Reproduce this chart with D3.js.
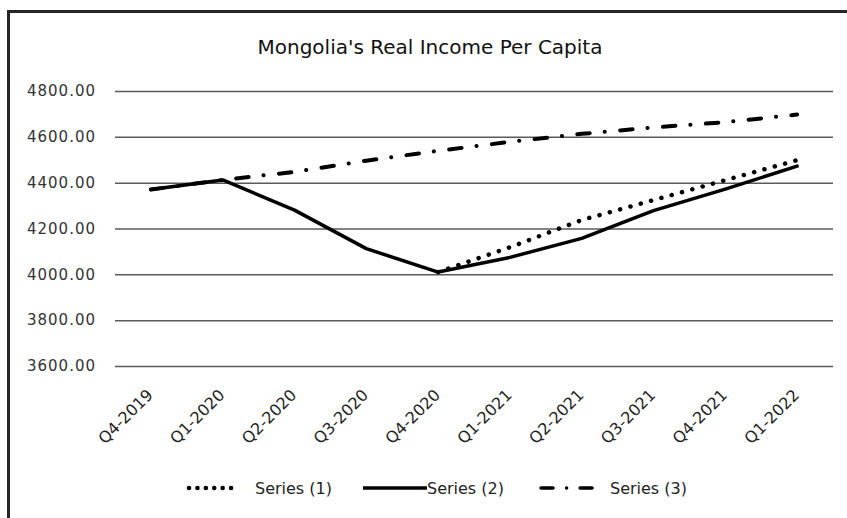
<!DOCTYPE html>
<html>
<head>
<meta charset="utf-8">
<script src="https://cdn.jsdelivr.net/npm/d3@7"></script>
<style>
  body { margin: 0; background: #fff; }
  svg { display: block; font-family: "DejaVu Sans", sans-serif; }
</style>
</head>
<body>
<div id="chart"></div>
<script>
const categories = ["Q4-2019", "Q1-2020", "Q2-2020", "Q3-2020", "Q4-2020",
  "Q1-2021", "Q2-2021", "Q3-2021", "Q4-2021", "Q1-2022"];
const series1 = [null, null, null, null, 4010, 4118, 4237, 4324, 4411, 4498];
const series2 = [4370, 4412, 4280, 4112, 4010, 4074, 4157, 4278, 4372, 4472];
const series3 = [4370, 4412, 4447, 4496, 4539, 4578, 4613, 4641, 4664, 4697];
const seriesNames = ["Series (1)", "Series (2)", "Series (3)"];
const yTicks = [3600, 3800, 4000, 4200, 4400, 4600, 4800];

const W = 847, H = 518;
const plot = { left: 115, right: 833, top: 91, bottom: 366 };

const styles = [
  { dash: "0.1,10.6", width: 4.5, legendDash: "0.1,8.3" },
  { dash: null, width: 3.5, legendDash: null },
  { dash: "12.5,15,0.1,15.4", width: 4, legendDash: "12,13.5,0.1,13.5" }
];

const svg = d3.select("#chart").append("svg")
  .attr("width", W)
  .attr("height", H);

// outer frame (cut off at right and bottom)
svg.append("rect")
  .attr("x", 8.5).attr("y", 11.5)
  .attr("width", 900).attr("height", 600)
  .attr("fill", "none")
  .attr("stroke", "#262626")
  .attr("stroke-width", 3);

svg.append("text")
  .attr("x", 430).attr("y", 54)
  .attr("text-anchor", "middle")
  .attr("font-size", 20)
  .attr("fill", "#111")
  .text("Mongolia's Real Income Per Capita");

const x = d3.scalePoint()
  .domain(categories)
  .range([plot.left, plot.right])
  .padding(0.5);

const y = d3.scaleLinear()
  .domain([3600, 4800])
  .range([plot.bottom, plot.top]);

// gridlines + y labels
const yAxis = svg.append("g")
  .attr("transform", `translate(${plot.left},0)`)
  .call(d3.axisLeft(y).tickValues(yTicks).tickSize(-(plot.right - plot.left))
    .tickPadding(19).tickFormat(d3.format(".2f")));
yAxis.select(".domain").remove();
yAxis.selectAll(".tick line")
  .attr("stroke", "#5a5a5a")
  .attr("stroke-width", 1.5);
yAxis.selectAll(".tick text")
  .attr("font-size", 15)
  .attr("font-family", "DejaVu Sans")
  .attr("letter-spacing", 1)
  .attr("fill", "#333");

// x labels, rotated
svg.append("g")
  .selectAll("text")
  .data(categories)
  .enter().append("text")
  .attr("transform", d => `translate(${x(d) + 3},396) rotate(-45)`)
  .attr("text-anchor", "end")
  .attr("font-size", 16)
  .attr("fill", "#222")
  .text(d => d);

const line = d3.line()
  .defined(d => d.v != null)
  .x(d => x(d.c))
  .y(d => y(d.v));

const allSeries = [series1, series2, series3];

// draw dash-dot first, then solid, then dotted on top
[2, 1, 0].forEach(i => {
  const pts = allSeries[i].map((v, j) => ({ c: categories[j], v: v }));
  svg.append("path")
    .datum(pts)
    .attr("d", line)
    .attr("fill", "none")
    .attr("stroke", "#000")
    .attr("stroke-width", styles[i].width)
    .attr("stroke-linecap", "round")
    .attr("stroke-linejoin", "round")
    .attr("stroke-dasharray", styles[i].dash);
});

// legend
const legendPos = [
  { x1: 189, x2: 239, tx: 255 },
  { x1: 363, x2: 427, tx: 427 },
  { x1: 541, x2: 600, tx: 610 }
];
const legend = svg.append("g").attr("transform", "translate(0,488)");
legendPos.forEach((p, i) => {
  legend.append("line")
    .attr("x1", p.x1).attr("x2", p.x2)
    .attr("y1", 0).attr("y2", 0)
    .attr("stroke", "#000")
    .attr("stroke-width", i === 0 ? 4.5 : 3.5)
    .attr("stroke-linecap", i === 1 ? "butt" : "round")
    .attr("stroke-dasharray", styles[i].legendDash);
  legend.append("text")
    .attr("x", p.tx).attr("y", 6)
    .attr("font-size", 16)
    .attr("fill", "#222")
    .text(seriesNames[i]);
});
</script>
</body>
</html>
